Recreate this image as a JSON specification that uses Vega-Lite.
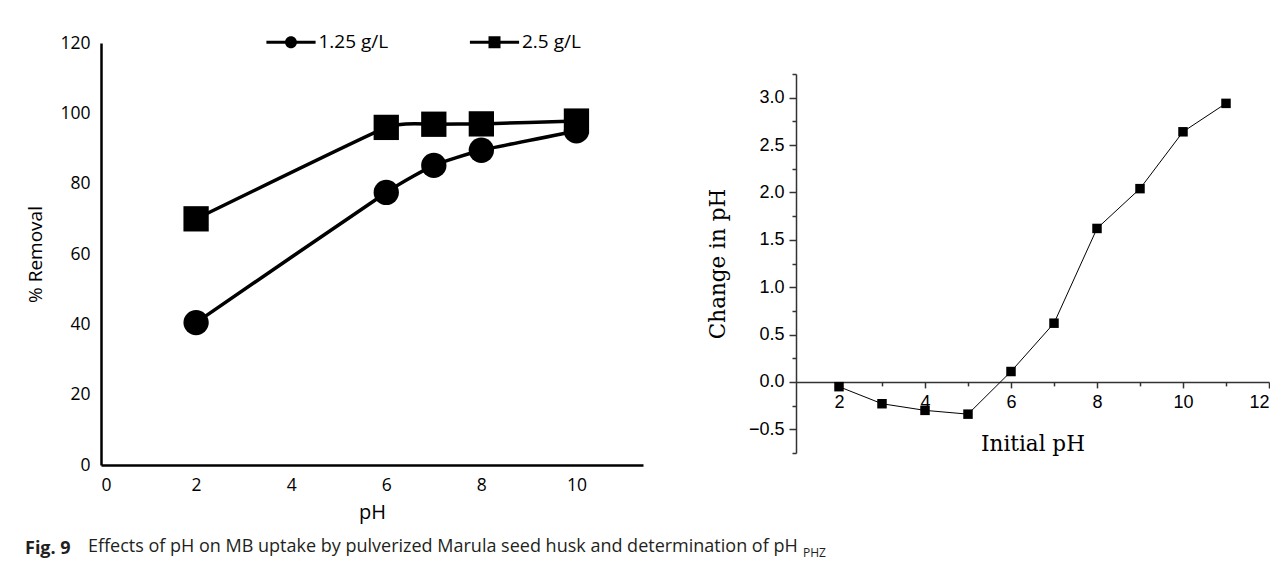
{
  "$schema": "https://vega.github.io/schema/vega-lite/v6.json",
  "padding": {"left": 25, "top": 32, "right": 0, "bottom": 0},
  "background": "white",
  "config": {
    "view": {"stroke": null},
    "axis": {"grid": false}
  },
  "title": {
    "text": "Effects of pH on MB uptake by pulverized Marula seed husk and determination of pH",
    "orient": "bottom", "anchor": "start", "frame": "bounds", "dx": 63, "dy": -21, "offset": 0,
    "font": "Open Sans", "fontSize": 18, "fontWeight": "normal", "color": "#231f20"
  },
  "resolve": {"scale": {"shape": "independent"}},
  "spacing": 64,
  "hconcat": [
    {
      "width": 542,
      "height": 422,
      "title": {
        "text": "Fig. 9", "orient": "bottom", "anchor": "start", "frame": "group", "dx": -76, "offset": 17,
        "font": "Open Sans", "fontSize": 18, "fontWeight": "bold", "color": "#231f20"
      },
      "data": {
        "values": [
          {"pH": 2, "removal": 40.5, "dose": "1.25 g/L"},
          {"pH": 6, "removal": 77.5, "dose": "1.25 g/L"},
          {"pH": 7, "removal": 85.2, "dose": "1.25 g/L"},
          {"pH": 8, "removal": 89.5, "dose": "1.25 g/L"},
          {"pH": 10, "removal": 95, "dose": "1.25 g/L"},
          {"pH": 2, "removal": 70, "dose": "2.5 g/L"},
          {"pH": 6, "removal": 96, "dose": "2.5 g/L"},
          {"pH": 7, "removal": 96.9, "dose": "2.5 g/L"},
          {"pH": 8, "removal": 97, "dose": "2.5 g/L"},
          {"pH": 10, "removal": 97.8, "dose": "2.5 g/L"}
        ]
      },
      "encoding": {
        "x": {
          "field": "pH", "type": "quantitative",
          "scale": {"domain": [0, 11.4], "nice": false, "zero": false},
          "axis": {
            "values": [0, 2, 4, 6, 8, 10], "ticks": false, "domainColor": "black", "domainWidth": 2.5,
            "labelFont": "Open Sans", "labelFontSize": 17.5, "labelColor": "black", "labelPadding": 11,
            "title": "pH", "titleFont": "Open Sans", "titleFontSize": 20, "titleFontWeight": "normal",
            "titleColor": "black", "titlePadding": 9
          }
        },
        "y": {
          "field": "removal", "type": "quantitative",
          "scale": {"domain": [0, 120], "nice": false},
          "axis": {
            "values": [0, 20, 40, 60, 80, 100, 120], "ticks": false, "domainColor": "black", "domainWidth": 2.5,
            "labelFont": "Open Sans", "labelFontSize": 17.5, "labelColor": "black", "labelPadding": 11,
            "title": "% Removal", "titleFont": "Open Sans", "titleFontSize": 19, "titleFontWeight": "normal",
            "titleColor": "black", "titlePadding": 14
          }
        }
      },
      "layer": [
        {
          "mark": {"type": "line", "interpolate": "cardinal", "tension": 0.6, "strokeWidth": 3.5, "color": "black"},
          "encoding": {"detail": {"field": "dose", "type": "nominal"}}
        },
        {
          "mark": {"type": "point", "filled": true, "size": 640, "color": "black", "opacity": 1},
          "encoding": {
            "shape": {
              "condition": {"test": "datum.dose === '1.25 g/L'", "value": "circle"},
              "value": "square"
            }
          }
        },
        {
          "transform": [{"filter": "false"}],
          "mark": {"type": "point", "fill": "black", "stroke": "black", "size": 144, "opacity": 1, "strokeWidth": 0},
          "encoding": {
            "shape": {
              "field": "dose", "type": "nominal",
              "scale": {
                "domain": ["1.25 g/L", "2.5 g/L"],
                "range": [
                  "M-4.1,-0.25H4.1V0.25H-4.1ZM-1,0A1,1,0,1,1,1,0A1,1,0,1,1,-1,0Z",
                  "M-4.1,-0.25H4.1V0.25H-4.1ZM-1,-1H1V1H-1Z"
                ]
              },
              "legend": {
                "orient": "none", "legendX": 180.5, "legendY": -10.5, "direction": "horizontal",
                "title": null, "padding": 0,
                "symbolSize": 144, "symbolStrokeWidth": 0, "symbolFillColor": "black",
                "symbolOpacity": 1,
                "labelFont": "Open Sans", "labelFontSize": 19, "labelColor": "black", "labelOffset": 18,
                "columnPadding": 80.5
              }
            }
          }
        }
      ]
    },
    {
      "title": {
        "text": "PHZ", "orient": "bottom", "anchor": "start", "frame": "group", "dx": 7, "offset": 93,
        "font": "Open Sans", "fontSize": 12, "fontWeight": "normal", "color": "#231f20"
      },
      "spacing": 29,
      "vconcat": [
        {
          "width": 473,
          "height": 1,
          "data": {"values": []},
          "mark": "point"
        },
        {
          "width": 473,
          "height": 379,
          "data": {
            "values": [
              {"initial": 2, "change": -0.05},
              {"initial": 3, "change": -0.23},
              {"initial": 4, "change": -0.3},
              {"initial": 5, "change": -0.34},
              {"initial": 6, "change": 0.11},
              {"initial": 7, "change": 0.62},
              {"initial": 8, "change": 1.62},
              {"initial": 9, "change": 2.04},
              {"initial": 10, "change": 2.64},
              {"initial": 11, "change": 2.94}
            ]
          },
          "resolve": {"axis": {"x": "independent", "y": "independent"}},
          "layer": [
            {
              "mark": {"type": "line", "color": "black", "strokeWidth": 1},
              "encoding": {
                "x": {
                  "field": "initial", "type": "quantitative",
                  "scale": {"domain": [1, 12], "nice": false, "zero": false},
                  "axis": {
                    "orient": "bottom", "offset": -71.1, "values": [2, 4, 6, 8, 10, 12],
                    "tickSize": 6, "tickWidth": 1.5, "tickColor": "#333", "domainColor": "#333", "domainWidth": 1.5,
                    "labelFont": "Liberation Sans", "labelFontSize": 18, "labelColor": "black", "labelPadding": 6,
                    "title": "Initial pH", "titleFont": "DejaVu Serif", "titleFontSize": 21.5, "titleFontWeight": "normal",
                    "titleColor": "black", "titlePadding": 22
                  }
                },
                "y": {
                  "field": "change", "type": "quantitative",
                  "scale": {"domain": [-0.75, 3.25], "nice": false, "zero": false},
                  "axis": {
                    "orient": "left", "values": [-0.5, 0, 0.5, 1, 1.5, 2, 2.5, 3], "format": ".1f",
                    "tickSize": 7, "tickWidth": 1.5, "tickColor": "#333", "domainColor": "#333", "domainWidth": 1.5,
                    "labelFont": "Liberation Sans", "labelFontSize": 18, "labelColor": "black", "labelPadding": 5,
                    "title": "Change in pH", "titleFont": "DejaVu Serif", "titleFontSize": 21.5, "titleFontWeight": "normal",
                    "titleColor": "black", "titlePadding": 19
                  }
                }
              }
            },
            {
              "mark": {"type": "square", "filled": true, "size": 90, "color": "black", "opacity": 1},
              "encoding": {
                "x": {
                  "field": "initial", "type": "quantitative",
                  "axis": {
                    "orient": "bottom", "offset": -71.1, "values": [3, 5, 7, 9, 11],
                    "tickSize": 4, "tickWidth": 1.5, "tickColor": "#333", "labels": false, "domain": false, "title": null
                  }
                },
                "y": {
                  "field": "change", "type": "quantitative",
                  "axis": {
                    "orient": "left", "values": [-0.75, -0.25, 0.25, 0.75, 1.25, 1.75, 2.25, 2.75, 3.25],
                    "tickSize": 4, "tickWidth": 1.5, "tickColor": "#333", "labels": false, "domain": false, "title": null
                  }
                }
              }
            }
          ]
        }
      ]
    }
  ]
}
